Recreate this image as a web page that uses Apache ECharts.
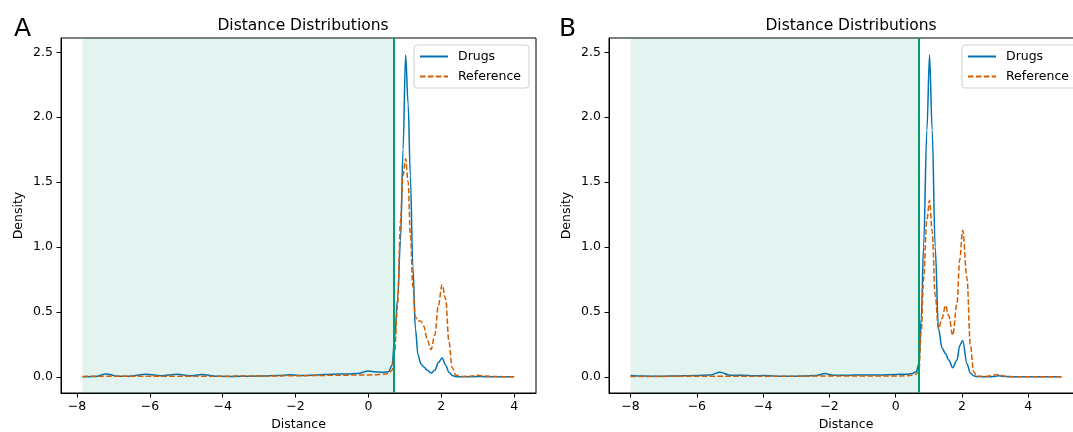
<!DOCTYPE html>
<html>
<head>
<meta charset="utf-8">
<script src="https://cdn.jsdelivr.net/npm/echarts@6/dist/echarts.min.js"></script>
<style>
  html, body { margin: 0; padding: 0; background: #fff; }
  #chart { width: 1073px; height: 432px; }
</style>
</head>
<body>
<div id="chart"></div>
<script>
// 面板 A 的数据
var distA = [-7.85, -7.5, -7.2, -6.9, -6.6, -6.1, -5.7, -5.25, -4.9, -4.57, -4.2, -3.9, -3.5, -3.0, -2.5, -2.14, -1.8, -1.4, -1.0, -0.6, -0.3, 0.0, 0.2, 0.4, 0.55, 0.65, 0.72, 0.8, 0.88, 0.95, 1.02, 1.09, 1.15, 1.22, 1.29, 1.36, 1.44, 1.52, 1.62, 1.72, 1.82, 1.92, 2.02, 2.12, 2.21, 2.3, 2.4, 2.55, 2.8, 3.0, 3.2, 3.5, 4.0];
var drugsA = [0.0, 0.002, 0.022, 0.005, 0.005, 0.02, 0.008, 0.02, 0.008, 0.018, 0.005, 0.003, 0.004, 0.006, 0.01, 0.016, 0.01, 0.015, 0.02, 0.022, 0.025, 0.045, 0.038, 0.035, 0.04, 0.09, 0.3, 0.6, 1.05, 1.75, 2.48, 2.1, 1.55, 0.85, 0.37, 0.17, 0.1, 0.075, 0.05, 0.03, 0.05, 0.11, 0.145, 0.09, 0.035, 0.01, 0.002, 0.0, 0.0, 0.003, 0.001, 0.0, 0.0];
var refA = [0.003, 0.004, 0.005, 0.005, 0.005, 0.005, 0.005, 0.005, 0.005, 0.005, 0.005, 0.005, 0.006, 0.006, 0.007, 0.008, 0.009, 0.01, 0.012, 0.013, 0.014, 0.015, 0.017, 0.02, 0.025, 0.05, 0.2, 0.55, 1.2, 1.55, 1.68, 1.5, 1.1, 0.7, 0.46, 0.43, 0.43, 0.39, 0.28, 0.21, 0.32, 0.55, 0.71, 0.6, 0.27, 0.07, 0.015, 0.003, 0.005, 0.012, 0.006, 0.002, 0.0];

// 面板 B 的数据
var distB = [-8.0, -7.6, -7.2, -6.8, -6.4, -6.0, -5.6, -5.3, -5.0, -4.6, -4.3, -4.0, -3.6, -3.2, -2.8, -2.4, -2.13, -1.9, -1.5, -1.0, -0.5, 0.0, 0.3, 0.5, 0.62, 0.7, 0.77, 0.84, 0.94, 1.02, 1.10, 1.19, 1.29, 1.40, 1.50, 1.60, 1.72, 1.85, 1.93, 2.02, 2.15, 2.25, 2.35, 2.45, 2.7, 3.0, 3.1, 3.3, 3.6, 4.0, 4.5, 5.0];
var drugsB = [0.01, 0.006, 0.004, 0.006, 0.008, 0.01, 0.015, 0.035, 0.012, 0.012, 0.008, 0.01, 0.005, 0.004, 0.006, 0.01, 0.025, 0.012, 0.012, 0.015, 0.015, 0.018, 0.02, 0.025, 0.04, 0.1, 0.45, 1.0, 1.9, 2.48, 1.9, 1.0, 0.37, 0.22, 0.18, 0.13, 0.07, 0.13, 0.24, 0.28, 0.1, 0.03, 0.008, 0.002, 0.0, 0.003, 0.008, 0.002, 0.0, 0.0, 0.0, 0.0];
var refB = [0.003, 0.003, 0.003, 0.004, 0.004, 0.004, 0.004, 0.005, 0.005, 0.005, 0.005, 0.005, 0.005, 0.005, 0.005, 0.006, 0.006, 0.006, 0.006, 0.006, 0.006, 0.006, 0.008, 0.012, 0.02, 0.05, 0.35, 0.75, 1.21, 1.36, 1.12, 0.63, 0.37, 0.45, 0.55, 0.47, 0.32, 0.57, 0.9, 1.13, 0.76, 0.25, 0.04, 0.005, 0.003, 0.015, 0.018, 0.005, 0.001, 0.0, 0.0, 0.0];

var xTicksA = [-8, -6, -4, -2, 0, 2, 4];
var xTicksB = [-8, -6, -4, -2, 0, 2, 4];
var yTicks = [0, 0.5, 1.0, 1.5, 2.0, 2.5];
var threshold = 0.7;

var FONT = "DejaVu Sans";
var BLUE = "#0173b2";
var ORANGE = "#d55e00";
var GREEN = "#029e73";

function pairs(xs, ys) {
  return xs.map(function (x, i) { return [x, ys[i]]; });
}
function minus(v) {
  return v < 0 ? "\u2212" + Math.abs(v) : String(v);
}

function xAxisOf(gridIndex, min, max, ticks) {
  return {
    type: "value", gridIndex: gridIndex, min: min, max: max,
    name: "Distance", nameLocation: "middle", nameGap: 23,
    nameTextStyle: { fontFamily: FONT, fontSize: 12.5, color: "#000" },
    axisLine: { show: true, onZero: false, lineStyle: { color: "#000", width: 1 } },
    axisTick: { show: true, length: 4.5, customValues: ticks, lineStyle: { color: "#000" } },
    axisLabel: { customValues: ticks, margin: 7, fontFamily: FONT, fontSize: 12.5, color: "#000", formatter: minus },
    splitLine: { show: false }
  };
}
function yAxisOf(gridIndex) {
  return {
    type: "value", gridIndex: gridIndex, min: -0.1245, max: 2.61,
    name: "Density", nameLocation: "middle", nameGap: 36,
    nameTextStyle: { fontFamily: FONT, fontSize: 12.5, color: "#000" },
    axisLine: { show: true, onZero: false, lineStyle: { color: "#000", width: 1 } },
    axisTick: { show: true, length: 4.5, customValues: yTicks, lineStyle: { color: "#000" } },
    axisLabel: { customValues: yTicks, margin: 8, fontFamily: FONT, fontSize: 12.5, color: "#000",
      formatter: function (v) { return v.toFixed(1); } },
    splitLine: { show: false }
  };
}
function lineSeries(name, idx, data, color, dashed, shadeFrom) {
  var s = {
    name: name, type: "line", xAxisIndex: idx, yAxisIndex: idx,
    data: data, symbol: "none", smooth: 0.35, smoothMonotone: "x",
    lineStyle: { color: color, width: 1.5, type: dashed ? [5.5, 2.4] : "solid" },
    itemStyle: { color: color },
    z: 3
  };
  if (shadeFrom !== undefined) {
    s.markArea = {
      silent: true,
      itemStyle: { color: "rgba(2,158,115,0.11)" },
      data: [[{ xAxis: shadeFrom }, { xAxis: threshold }]]
    };
    s.markLine = {
      silent: true, symbol: "none", label: { show: false },
      lineStyle: { color: GREEN, width: 2, type: "solid" },
      data: [{ xAxis: threshold }]
    };
  }
  return s;
}
function legendAt(left) {
  return {
    data: ["Drugs", "Reference"], orient: "vertical", left: left, top: 45,
    itemWidth: 28, itemHeight: 12, itemGap: 7, padding: [5, 8, 5, 5],
    itemStyle: { opacity: 0 },
    borderColor: "#d0d0d0", borderWidth: 1, borderRadius: 3, backgroundColor: "rgba(255,255,255,0.85)",
    textStyle: { fontFamily: FONT, fontSize: 12.5, color: "#000", padding: [0, 0, 0, 5] }
  };
}

var chart = echarts.init(document.getElementById("chart"));
var option = {
  animation: false,
  backgroundColor: "#fff",
  title: [
    { text: "Distance Distributions", left: 298, top: 13, textAlign: "center",
      textStyle: { fontFamily: FONT, fontSize: 15.5, fontWeight: "normal", color: "#000" } },
    { text: "Distance Distributions", left: 846, top: 13, textAlign: "center",
      textStyle: { fontFamily: FONT, fontSize: 15.5, fontWeight: "normal", color: "#000" } },
    { text: "A", left: 9, top: 12, textStyle: { fontFamily: FONT, fontSize: 25, fontWeight: "normal", color: "#000" } },
    { text: "B", left: 554, top: 12, textStyle: { fontFamily: FONT, fontSize: 25, fontWeight: "normal", color: "#000" } }
  ],
  legend: [legendAt(414), legendAt(962)],
  grid: [
    { left: 61, right: 537, top: 38, bottom: 39, outerBoundsMode: "none",
      show: true, borderColor: "#000", borderWidth: 1, backgroundColor: "transparent" },
    { left: 609, right: -10, top: 38, bottom: 39, outerBoundsMode: "none",
      show: true, borderColor: "#000", borderWidth: 1, backgroundColor: "transparent" }
  ],
  xAxis: [
    xAxisOf(0, -8.44, 4.6, xTicksA),
    xAxisOf(1, -8.65, 5.65, xTicksB)
  ],
  yAxis: [yAxisOf(0), yAxisOf(1)],
  series: [
    lineSeries("Drugs", 0, pairs(distA, drugsA), BLUE, false, distA[0]),
    lineSeries("Reference", 0, pairs(distA, refA), ORANGE, true),
    lineSeries("Drugs", 1, pairs(distB, drugsB), BLUE, false, distB[0]),
    lineSeries("Reference", 1, pairs(distB, refB), ORANGE, true)
  ]
};
chart.setOption(option);
</script>
</body>
</html>
